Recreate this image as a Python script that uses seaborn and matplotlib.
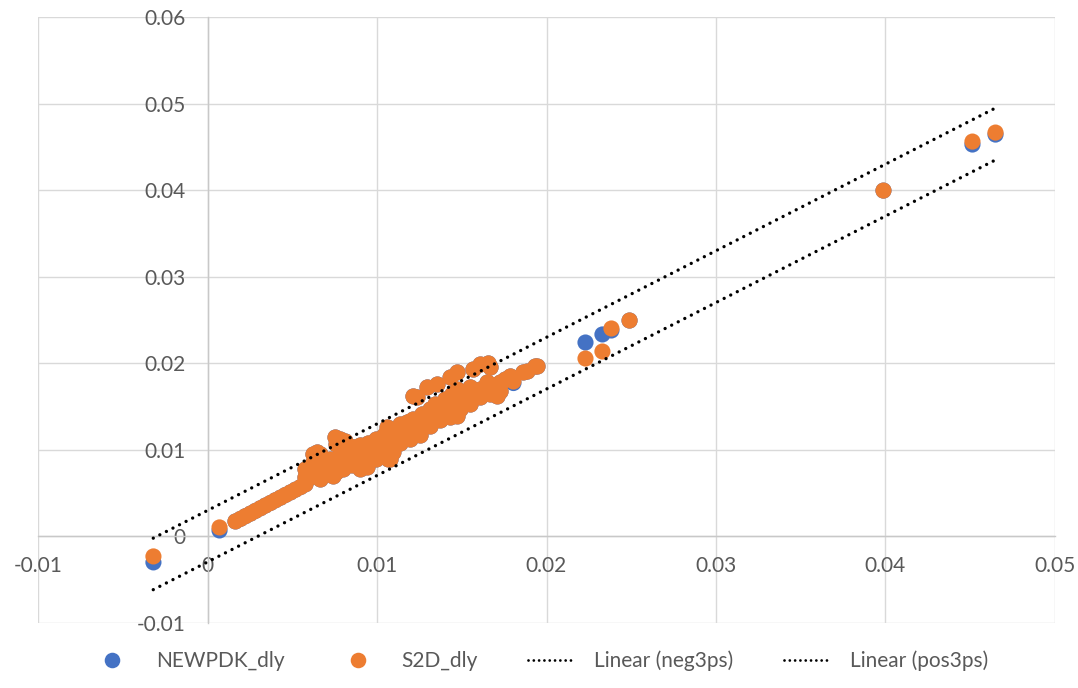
import matplotlib
matplotlib.use("Agg")
import matplotlib.pyplot as plt
import numpy as np
import pandas as pd
import seaborn as sns
from matplotlib.lines import Line2D

# ---------------- data ----------------
x_ref = [
    -0.00319, 0.00071,
    0.00165, 0.00195, 0.00224, 0.00254, 0.00283, 0.00313, 0.00342, 0.00372,
    0.00401, 0.00431, 0.00460, 0.00490, 0.00519, 0.00549, 0.00578,
    0.00596, 0.00608, 0.00625, 0.00637, 0.00649, 0.00667, 0.00667, 0.00696, 0.00726, 0.00743,
    0.00755, 0.00767, 0.00785, 0.00785, 0.00802, 0.00814, 0.00814, 0.00844, 0.00873, 0.00885,
    0.00903, 0.00914, 0.00944, 0.00944, 0.00962, 0.00991, 0.01003, 0.01003, 0.01032, 0.01038,
    0.01062, 0.01068, 0.01080, 0.01080, 0.01097, 0.01109, 0.01139, 0.01139, 0.01156, 0.01180,
    0.01198, 0.01215, 0.01215, 0.01239, 0.01245, 0.01268, 0.01298, 0.01298, 0.01316, 0.01345,
    0.01357, 0.01375, 0.01375, 0.01404, 0.01434, 0.01434, 0.01445, 0.01475, 0.01475, 0.01475,
    0.01475, 0.01534, 0.01534, 0.01552, 0.01569, 0.01593, 0.01611, 0.01652, 0.01652, 0.01658,
    0.01670, 0.01711, 0.01729, 0.01788, 0.01805, 0.01864, 0.01888, 0.01935, 0.01947,
    0.00578, 0.00578, 0.00619, 0.00619, 0.00667, 0.00667, 0.00667, 0.00714, 0.00714, 0.00714,
    0.00761, 0.00761, 0.00761, 0.00808, 0.00808, 0.00808, 0.00855, 0.00855, 0.00855, 0.00903,
    0.00903, 0.00903, 0.00950, 0.00950, 0.00997, 0.00997, 0.00997, 0.01044, 0.01044, 0.01044,
    0.01091, 0.01091, 0.01091, 0.01139, 0.01139, 0.01139, 0.01198, 0.01198, 0.01198, 0.01257,
    0.01257, 0.01316, 0.01316, 0.01375, 0.01375, 0.01434, 0.01434, 0.01493, 0.01493, 0.01552,
    0.01552, 0.01611, 0.01611, 0.01670, 0.01670, 0.01729, 0.01729, 0.01758,
    0.02230, 0.02330, 0.02383, 0.02490, 0.03988, 0.04513, 0.04649,
]

s2d_dly = [
    -0.00231, 0.00104,
    0.00173, 0.00203, 0.00234, 0.00264, 0.00295, 0.00326, 0.00357, 0.00387,
    0.00418, 0.00448, 0.00479, 0.00509, 0.00540, 0.00570, 0.00602,
    0.00751, 0.00681, 0.00947, 0.00774, 0.00970, 0.00947, 0.00808, 0.00855, 0.00889, 0.00693,
    0.01143, 0.01097, 0.01120, 0.00947, 0.00774, 0.01097, 0.00866, 0.00889, 0.01028, 0.00970,
    0.00774, 0.00924, 0.00797, 0.00855, 0.01039, 0.00912, 0.01039, 0.00970, 0.01120, 0.01005,
    0.01259, 0.00889, 0.00889, 0.01236, 0.00970, 0.01062, 0.01293, 0.01120, 0.01212, 0.01316,
    0.01328, 0.01351, 0.01617, 0.01605, 0.01351, 0.01409, 0.01721, 0.01386, 0.01467, 0.01524,
    0.01755, 0.01501, 0.01351, 0.01582, 0.01836, 0.01467, 0.01640, 0.01894, 0.01582, 0.01697,
    0.01386, 0.01547, 0.01663, 0.01721, 0.01928, 0.01674, 0.01986, 0.01778, 0.01732, 0.01998,
    0.01952, 0.01617, 0.01778, 0.01848, 0.01790, 0.01894, 0.01905, 0.01963, 0.01963,
    0.00681, 0.00774, 0.00716, 0.00831, 0.00866, 0.00751, 0.00658, 0.00831, 0.00716, 0.00866,
    0.01062, 0.00831, 0.00739, 0.01062, 0.00947, 0.00831, 0.01028, 0.00912, 0.00820, 0.01051,
    0.00947, 0.00843, 0.01074, 0.00958, 0.01120, 0.00982, 0.00889, 0.01166, 0.01051, 0.00935,
    0.01212, 0.01097, 0.00982, 0.01259, 0.01166, 0.01074, 0.01305, 0.01212, 0.01120, 0.01259,
    0.01166, 0.01351, 0.01270, 0.01443, 0.01340, 0.01524, 0.01374, 0.01605, 0.01467, 0.01640,
    0.01524, 0.01697, 0.01605, 0.01755, 0.01640, 0.01755, 0.01674, 0.01813,
    0.02055, 0.02136, 0.02402, 0.02494, 0.03995, 0.04561, 0.04665,
]

newpdk_dly = [
    -0.00300, 0.00069,
    0.00173, 0.00203, 0.00234, 0.00264, 0.00295, 0.00326, 0.00357, 0.00387,
    0.00418, 0.00448, 0.00479, 0.00509, 0.00540, 0.00570, 0.00602,
    0.00751, 0.00681, 0.00947, 0.00774, 0.00970, 0.00947, 0.00808, 0.00855, 0.00889, 0.00693,
    0.01143, 0.01097, 0.01120, 0.00947, 0.00774, 0.01097, 0.00866, 0.00889, 0.01028, 0.00970,
    0.00774, 0.00924, 0.00797, 0.00855, 0.01039, 0.00912, 0.01039, 0.00970, 0.01120, 0.01005,
    0.01259, 0.00889, 0.00889, 0.01236, 0.00970, 0.01062, 0.01293, 0.01120, 0.01212, 0.01316,
    0.01328, 0.01351, 0.01617, 0.01605, 0.01351, 0.01409, 0.01721, 0.01386, 0.01467, 0.01524,
    0.01755, 0.01501, 0.01351, 0.01582, 0.01836, 0.01467, 0.01640, 0.01894, 0.01582, 0.01697,
    0.01386, 0.01547, 0.01663, 0.01721, 0.01928, 0.01674, 0.01986, 0.01778, 0.01732, 0.01998,
    0.01952, 0.01617, 0.01778, 0.01848, 0.01772, 0.01894, 0.01905, 0.01963, 0.01963,
    0.00681, 0.00774, 0.00716, 0.00831, 0.00866, 0.00751, 0.00658, 0.00831, 0.00716, 0.00866,
    0.01062, 0.00831, 0.00739, 0.01062, 0.00947, 0.00831, 0.01028, 0.00912, 0.00820, 0.01051,
    0.00947, 0.00843, 0.01074, 0.00958, 0.01120, 0.00982, 0.00889, 0.01166, 0.01051, 0.00935,
    0.01212, 0.01097, 0.00982, 0.01259, 0.01166, 0.01074, 0.01305, 0.01212, 0.01120, 0.01259,
    0.01166, 0.01351, 0.01270, 0.01443, 0.01340, 0.01524, 0.01374, 0.01605, 0.01467, 0.01640,
    0.01524, 0.01697, 0.01605, 0.01755, 0.01640, 0.01755, 0.01674, 0.01813,
    0.02240, 0.02333, 0.02379, 0.02494, 0.03995, 0.04527, 0.04642,
]

# trendline end points (Excel linear trendlines of the +/-3ps series)
trend_x = [-0.00320, 0.04640]
neg3ps_trend = [-0.00615, 0.04340]
pos3ps_trend = [-0.00020, 0.04940]

xticks = [-0.01, 0.0, 0.01, 0.02, 0.03, 0.04, 0.05]
xtick_labels = ["-0.01", "0", "0.01", "0.02", "0.03", "0.04", "0.05"]
yticks = [-0.01, 0.0, 0.01, 0.02, 0.03, 0.04, 0.05, 0.06]
ytick_labels = ["-0.01", "0", "0.01", "0.02", "0.03", "0.04", "0.05", "0.06"]

series_names = ["NEWPDK_dly", "S2D_dly"]
colors = {"NEWPDK_dly": "#4472C4", "S2D_dly": "#ED7D31"}

# ---------------- plotting ----------------
sns.set_style("white")
plt.rcParams["font.family"] = ["Lato", "DejaVu Sans"]

n = len(x_ref)
df = pd.DataFrame({
    "x": x_ref + x_ref,
    "y": newpdk_dly + s2d_dly,
    "series": [series_names[0]] * n + [series_names[1]] * n,
})

fig = plt.figure(figsize=(10.78, 6.88), dpi=100)
ax = fig.add_axes([38 / 1078, 1 - 623 / 688, (1055 - 38) / 1078, (623 - 17) / 688])

sns.scatterplot(data=df, x="x", y="y", hue="series", palette=colors,
                s=135, linewidth=0, edgecolor="none", legend=False, ax=ax, zorder=3)

dot_style = dict(color="black", linewidth=2.4, linestyle=(0, (0.01, 2.2)),
                 dash_capstyle="round", zorder=4)
sns.lineplot(x=trend_x, y=neg3ps_trend, ax=ax, **dot_style)
sns.lineplot(x=trend_x, y=pos3ps_trend, ax=ax, **dot_style)

ax.set_xlim(-0.01, 0.05)
ax.set_ylim(-0.01, 0.06)
ax.set_xticks(xticks)
ax.set_xticklabels(xtick_labels)
ax.set_yticks(yticks)
ax.set_yticklabels(ytick_labels)
ax.set_xlabel("")
ax.set_ylabel("")

ax.set_axisbelow(True)
ax.grid(True, color="#D9D9D9", linewidth=1.0)
for gl in ax.get_xgridlines() + ax.get_ygridlines():
    gl.set_clip_on(False)

for side in ["top", "right"]:
    ax.spines[side].set_visible(False)
for side in ["left", "bottom"]:
    ax.spines[side].set_position(("data", 0))
    ax.spines[side].set_color("#C8C8C8")
    ax.spines[side].set_linewidth(1.0)

ax.tick_params(axis="both", length=0, labelsize=15, labelcolor="#595959")
ax.tick_params(axis="x", pad=14)
ax.tick_params(axis="y", pad=16)

handles = [
    Line2D([], [], marker="o", linestyle="", markersize=11.2,
           markerfacecolor=colors["NEWPDK_dly"], markeredgewidth=0),
    Line2D([], [], marker="o", linestyle="", markersize=11.2,
           markerfacecolor=colors["S2D_dly"], markeredgewidth=0),
    Line2D([], [], color="black", linewidth=2.0, linestyle=(0, (0.01, 1.9)),
           dash_capstyle="round"),
    Line2D([], [], color="black", linewidth=2.0, linestyle=(0, (0.01, 1.9)),
           dash_capstyle="round"),
]
labels = ["NEWPDK_dly", "S2D_dly", "Linear (neg3ps)", "Linear (pos3ps)"]
fig.legend(handles, labels, loc="center", bbox_to_anchor=(0.5, 1 - 661 / 688),
           ncol=4, frameon=False, fontsize=15, labelcolor="#595959",
           handlelength=2.2, handletextpad=1.0, columnspacing=2.4)

fig.savefig("out.png", dpi=100)
